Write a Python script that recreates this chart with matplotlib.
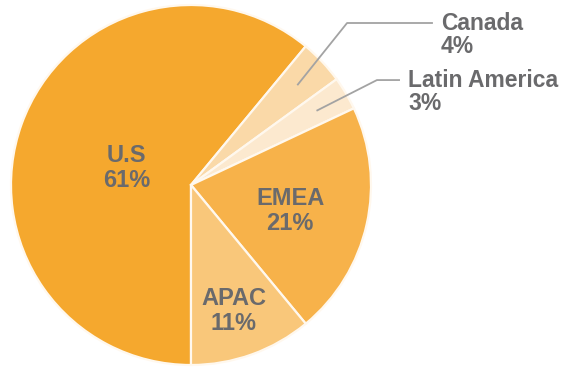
import numpy as np
import matplotlib.pyplot as plt

# Revenue share by region
regions = ['U.S', 'Canada', 'Latin America', 'EMEA', 'APAC']
shares = [61, 4, 3, 21, 11]
colors = ['#F5A82E', '#FAD9A8', '#FCE9CF', '#F7B24A', '#F9C77A']

plt.rcParams['font.family'] = ['Liberation Sans', 'DejaVu Sans']
text_color = '#6a6a6c'

fig = plt.figure(figsize=(5.64, 3.70), dpi=100)
ax = fig.add_axes([0, 0, 1, 1])

wedges, _ = ax.pie(shares, colors=colors, startangle=-90, counterclock=False,
                   radius=1, center=(0, 0),
                   wedgeprops=dict(edgecolor='#FFF8EE', linewidth=1.6))

ax.set_xlim(-191 / 180, (564 - 191) / 180)
ax.set_ylim(-(370 - 185) / 180, 185 / 180)
ax.set_aspect('equal')
ax.axis('off')

def mid_angle(w, shift=0):
    return np.deg2rad((w.theta1 + w.theta2) / 2 + shift)

# labels inside the big slices: (radius, angle shift in degrees)
inside = {'U.S': (0.37, 5), 'EMEA': (0.57, -2), 'APAC': (0.74, -1)}
for w, name, val in zip(wedges, regions, shares):
    if name in inside:
        r, shift = inside[name]
        a = mid_angle(w, shift)
        ax.text(r * np.cos(a), r * np.sin(a), f'{name}\n{val}%', ha='center', va='center',
                fontsize=17, fontweight='bold', color=text_color, linespacing=1.08)

# leader lines for the small slices
callouts = {'Canada': ((0.867, 0.90), 1.344), 'Latin America': ((1.033, 0.583), 1.161)}
for w, name, val in zip(wedges, regions, shares):
    if name in callouts:
        a = mid_angle(w)
        (ex, ey), hx = callouts[name]
        sx, sy = 0.81 * np.cos(a), 0.81 * np.sin(a)
        ax.plot([sx, ex, hx], [sy, ey, ey], color='#a3a3a3', lw=1.3, solid_capstyle='butt')
        ax.text(hx + 0.045, ey - 0.064, f'{name}\n{val}%', ha='left', va='center',
                fontsize=16.5, fontweight='bold', color=text_color, linespacing=1.0)

fig.savefig('out.png', dpi=100)
